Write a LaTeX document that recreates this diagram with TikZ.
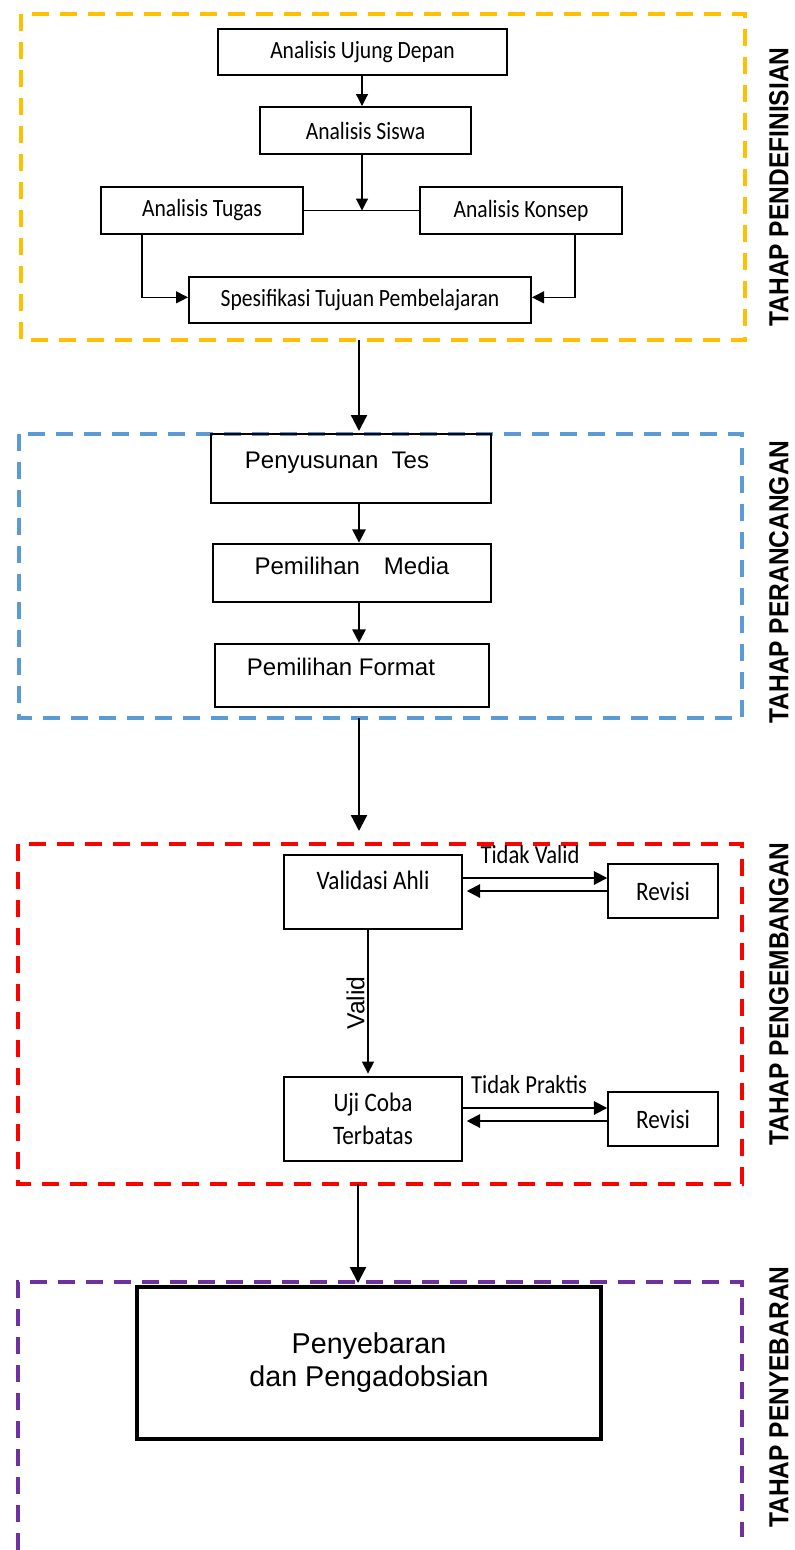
\documentclass[tikz,border=0pt]{standalone}
\usepackage{fontspec}
\setmainfont{Liberation Sans}
\newfontfamily\calfont[FakeStretch=0.87]{Carlito}
\usetikzlibrary{arrows.meta,positioning}
\definecolor{defcol}{HTML}{FFC000}
\definecolor{rancol}{HTML}{5B9BD5}
\definecolor{kembcol}{HTML}{FF0000}
\definecolor{sebarcol}{HTML}{7030A0}
\newcommand{\stagetxt}[1]{\scalebox{1}[1.12]{#1}}
\begin{document}
\begin{tikzpicture}[x=0.75pt, y=-0.75pt,
  stage/.style={line width=2.5pt, dash pattern=on 12.75pt off 8.25pt},
  stage label/.style={rotate=90, font=\bfseries\fontsize{18.4}{20}\selectfont},
  def box/.style={rectangle, draw, line width=1.5pt, inner sep=0pt, font=\calfont\fontsize{18.6}{22}\selectfont},
  ran box/.style={rectangle, draw, line width=2pt, inner sep=0pt},
  ran text/.style={font=\fontsize{18}{21}\selectfont, inner sep=0pt},
  kemb box/.style={rectangle, draw, line width=1.1pt, inner sep=0pt, align=center, font=\calfont\fontsize{20}{24.75}\selectfont},
  kemb text/.style={font=\calfont\fontsize{20}{24}\selectfont, inner sep=0pt},
  flow label/.style={font=\calfont\fontsize{19.5}{22}\selectfont, inner sep=1pt},
  thin arr/.style={-{Triangle[length=9pt,width=9pt]}, line width=0.9pt},
  mid arr/.style={-{Triangle[length=10pt,width=10pt]}, line width=1.5pt},
  big arr/.style={-{Triangle[length=12pt,width=12pt]}, line width=1.7pt}]
\useasboundingbox (0,0) rectangle (794,1550);

% tahap pendefinisian
\begin{scope}
\draw[stage, defcol] (21,14) rectangle (745,340);
\node[stage label] (lbl-def) at (779,187) {\stagetxt{TAHAP PENDEFINISIAN}};
\node[def box, minimum width=216.75pt, minimum height=34.5pt] (ujung) at (362.5,52) {Analisis Ujung Depan};
\node[def box, minimum width=158.25pt, minimum height=35.25pt] (siswa) at (365.5,130.5) {Analisis Siswa};
\node[def box, minimum width=151.5pt, minimum height=35.25pt] (tugas) at (202,210.5) {Analisis Tugas};
\node[def box, minimum width=151.5pt, minimum height=35.25pt] (konsep) at (521,210.5) {Analisis Konsep};
\node[def box, minimum width=256.5pt, minimum height=34.5pt] (spesif) at (360,300) {Spesifikasi Tujuan Pembelajaran};
\coordinate (jct) at (362,210.5);
\draw[thin arr] (ujung.south -| jct) -- (siswa.north -| jct);
\draw[thin arr] (siswa.south -| jct) -- (jct);
\draw[line width=0.9pt] (tugas.east) -- (konsep.west);
\draw[thin arr] ([xshift=-45pt]tugas.south) |- ([yshift=2pt]spesif.west);
\draw[thin arr] ([xshift=40.5pt]konsep.south) |- ([yshift=2pt]spesif.east);
\end{scope}

\coordinate (def-out) at (359,340);
\draw[big arr] (def-out) -- (def-out |- 0,431);

% tahap perancangan
\begin{scope}
\draw[stage, rancol] (19,434) rectangle (742,718);
\node[stage label] (lbl-ran) at (779,582) {\stagetxt{TAHAP PERANCANGAN}};
\node[ran box, line width=2.2pt, minimum width=210pt, minimum height=51.75pt,
  label={[ran text, xshift=-10.5pt, yshift=4pt]center:Penyusunan\ \ Tes}] (tes) at (351,468.5) {};
\node[ran box, minimum width=208.5pt, minimum height=43.5pt,
  label={[ran text, yshift=5pt]center:Pemilihan\quad Media}] (media) at (352,573) {};
\node[ran box, minimum width=205.5pt, minimum height=47.25pt,
  label={[ran text, xshift=-8.25pt, yshift=6.4pt]center:Pemilihan Format}] (format) at (352,675.5) {};
\coordinate (ran-axis) at (359,0);
\draw[mid arr] (ran-axis |- tes.south) -- (ran-axis |- media.north);
\draw[mid arr] (ran-axis |- media.south) -- (ran-axis |- format.north);
\end{scope}

\coordinate (ran-out) at (359,718);
\coordinate (kemb-in) at (359,831);
\draw[big arr] (ran-out) -- (kemb-in);

% tahap pengembangan
\begin{scope}
\draw[stage, kembcol] (18,844) rectangle (742,1184);
\node[stage label] (lbl-kemb) at (779,994) {\stagetxt{TAHAP PENGEMBANGAN}};
\node[kemb box, minimum width=133.5pt, minimum height=55.5pt,
  label={[kemb text, yshift=9pt]center:Validasi Ahli}] (valid) at (373,892) {};
\node[kemb box, minimum width=82.5pt, minimum height=40.5pt] (rev1) at (663,891) {Revisi};
\node[kemb box, minimum width=133.5pt, minimum height=63pt] (uji) at (373,1119) {Uji Coba\\Terbatas};
\node[kemb box, minimum width=82.5pt, minimum height=40.5pt] (rev2) at (663,1119) {Revisi};
\draw[mid arr] ([yshift=10.5pt]valid.east) -- node[flow label, above=9pt, xshift=-3.75pt] (lbl-tv) {Tidak Valid} ([yshift=10.5pt]valid.east -| rev1.west);
\draw[mid arr, shorten >=3pt] (rev1.west) -- (rev1.west -| valid.east);
\draw[thin arr, shorten >=2pt] ([xshift=-3.75pt]valid.south) -- node[midway, rotate=90, anchor=south, inner sep=2pt, font=\fontsize{18.5}{21}\selectfont] (lbl-v) {Valid} ([xshift=-3.75pt]uji.north);
\draw[mid arr] ([yshift=8.25pt]uji.east) -- node[flow label, above=9pt, xshift=-4.5pt] (lbl-tp) {Tidak Praktis} ([yshift=8.25pt]uji.east -| rev2.west);
\draw[mid arr, shorten >=3pt] ([yshift=-1.5pt]rev2.west) -- ([yshift=-1.5pt]rev2.west -| uji.east);
\end{scope}

\coordinate (kemb-out) at (358,1184);
\coordinate (sebar-in) at (358,1283);
\draw[big arr] (kemb-out) -- (sebar-in);

% tahap penyebaran
\begin{scope}
\draw[stage, sebarcol] (18,1550) -- (18,1282) -- (742,1282) -- (742,1537);
\node[stage label] (lbl-sebar) at (779,1397) {\stagetxt{TAHAP PENYEBARAN}};
\node[rectangle, draw, line width=2.6pt, minimum width=348pt, minimum height=114pt, align=center,
  font=\fontsize{21.5}{24.75}\selectfont] (sebar) at (369,1363) {Penyebaran\\dan Pengadobsian};
\end{scope}
\end{tikzpicture}
\end{document}
